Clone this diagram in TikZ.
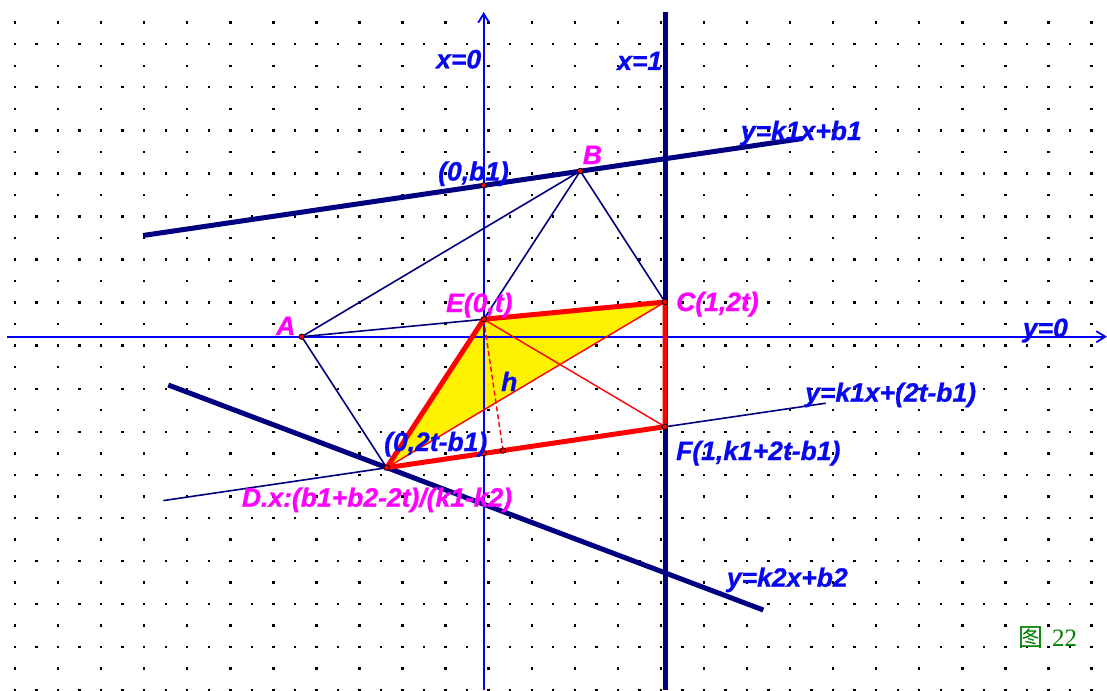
\documentclass[tikz,border=0pt]{standalone}
\usepackage{fontspec}
\setmainfont{Liberation Serif}
\newfontfamily\lblfont{Liberation Sans}[BoldItalicFeatures={FakeBold=0.9}]
\newfontfamily\cjkfont{Noto Sans CJK SC}
\usetikzlibrary{arrows.meta,calc}
\definecolor{navy}{RGB}{0,0,128}
\definecolor{axisblue}{RGB}{0,0,255}
\definecolor{lblblue}{RGB}{8,8,240}
\definecolor{lblmag}{RGB}{255,0,255}
\definecolor{figgreen}{RGB}{0,128,0}
\begin{document}
\begin{tikzpicture}[x=1pt,y=-1pt,
  lbl/.style={anchor=base west, inner sep=0pt, text=lblblue,
    font=\lblfont\bfseries\itshape\fontsize{26.5}{30}\selectfont},
  mlbl/.style={lbl, text=lblmag},
  axisline/.style={axisblue, line width=1.8pt},
  thickline/.style={navy, line width=5pt},
  thinline/.style={navy, line width=1.6pt},
  redthick/.style={red, line width=5pt, line cap=round, line join=round},
  redthin/.style={red, line width=1.4pt},
  pt/.style={circle, fill=red, draw=black, line width=0.7pt, inner sep=0pt, minimum size=5.5pt},
  dotmark/.style={fill=black}]
\useasboundingbox (0,0) rectangle (1107,690);
\fill[white] (0,0) rectangle (1107,690);
% grid dots
\foreach \j in {0,2,...,30}{\foreach \k in {0,2,...,50}{
  \fill[dotmark] (15+21.53*\k-1.2, 22.7+21.53*\j-1.2) rectangle ++(2.4,2.4);}}
\foreach \j in {1,3,...,31}{\foreach \k in {0,1,...,50}{
  \fill[dotmark] (15+21.53*\k-1.2, 22.7+21.53*\j-1.2) rectangle ++(2.4,2.4);}}
% points
\coordinate (O1) at (483.7,185.3);
\coordinate (B) at (580.3,171);
\coordinate (A) at (301.7,336.7);
\coordinate (C) at (665,302);
\coordinate (E) at (483.7,319.3);
\coordinate (F) at (665,426.7);
\coordinate (D) at (386.7,467.7);
\coordinate (O2) at (483.7,453);
\coordinate (H) at ($(D)!(E)!(F)$);
% line ends
\coordinate (L1a) at (143,235.5);
\coordinate (L1b) at (802.7,138.5);
\coordinate (L2a) at (168.3,385);
\coordinate (L2b) at (763.3,610);
\coordinate (L3a) at (163.3,500.6);
\coordinate (L3b) at (825.7,403.2);
\coordinate (X1t) at (665,12);
\coordinate (X1b) at (665,690);
\coordinate (XAl) at (7,336.7);
\coordinate (XAr) at (1107,336.7);
\coordinate (YAb) at (483.7,690);
\coordinate (YAt) at (483.7,12);
% yellow triangle
\fill[yellow] (E) -- (C) -- (D) -- cycle;
% axes
\draw[axisline, -{Straight Barb[length=9pt,width=11pt]}] (XAl) -- (XAr);
\draw[axisline, -{Straight Barb[length=9pt,width=11pt]}] (YAb) -- (YAt);
% thin navy
\draw[thinline] (A) -- (B);
\draw[thinline] (A) -- (E);
\draw[thinline] (A) -- (D);
\draw[thinline] (B) -- (E);
\draw[thinline] (B) -- (C);
\draw[thinline] (L3a) -- (L3b);
% thick navy
\draw[thickline] (L1a) -- (L1b);
\draw[thickline] (X1t) -- (X1b);
\draw[thickline] (L2a) -- (L2b);
% red
\draw[redthin] (E) -- (F);
\draw[redthin] (D) -- (C);
\draw[redthin, dashed, dash pattern=on 5pt off 3pt] (E) -- (H);
\draw[redthick] (E) -- (C) -- (F) -- (D) -- cycle;
% point marks
\foreach \p in {O1,B,A,C,E,F,D,O2,H}{\node[pt] (m\p) at (\p) {};}
% labels
\node[lbl] (tx0) at (436,68.3) {x=0};
\node[lbl] (tx1) at (617,70) {x=1};
\node[lbl] (tob1) at (438,180.5) {(0,b1)};
\node[mlbl] (tB) at (582.7,164) {B};
\node[lbl] (tl1) at (740.7,140) {y=k1x+b1};
\node[mlbl] (tC) at (676,311) {C(1,2t)};
\node[lbl] (ty0) at (1022.7,337) {y=0};
\node[mlbl] (tA) at (276,335) {A};
\node[mlbl] (tE) at (446,312) {E(0,t)};
\node[lbl] (th) at (501,391) {h};
\node[lbl] (to2) at (384,451) {(0,2t-b1)};
\node[lbl] (tF) at (676,460) {F(1,k1+2t-b1)};
\node[lbl] (tl3) at (805,401.7) {y=k1x+(2t-b1)};
\node[mlbl] (tD) at (241.7,506.7) {D.x:(b1+b2-2t)/(k1-k2)};
\node[lbl] (tl2) at (726.7,586.7) {y=k2x+b2};
\node[anchor=base west, inner sep=0pt, text=figgreen, font=\fontsize{25}{28}\selectfont] (tfig) at (1018,646.7) {{\cjkfont 图}\hspace{9pt}22};
\end{tikzpicture}
\end{document}
